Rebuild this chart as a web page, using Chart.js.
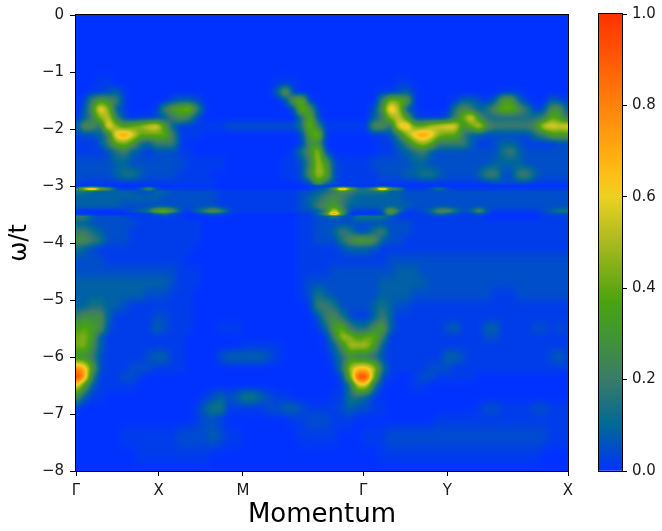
<!DOCTYPE html>
<html>
<head>
<meta charset="utf-8">
<script src="https://cdn.jsdelivr.net/npm/chart.js@4"></script>
<style>
  html, body { margin: 0; padding: 0; background: #fff; }
  #wrap { position: relative; width: 662px; height: 531px; }
  #wrap canvas { position: absolute; top: 0; }
</style>
</head>
<body>
<div id="wrap">
  <canvas id="map" width="662" height="531" style="left:0"></canvas>
  <canvas id="bar" width="92" height="531" style="left:570px"></canvas>
</div>
<script>
// ---------- Data ----------
// energies of the rows, top to bottom
const omega = [0,-0.5,-1,-1.2,-1.35,-1.5,-1.65,-1.8,-1.95,-2.1,-2.25,-2.4,-2.6,-2.8,-2.95,-3,-3.05,-3.1,-3.2,-3.35,-3.44,-3.49,-3.54,-3.65,-3.8,-3.95,-4.1,-4.3,-4.5,-4.7,-4.9,-5.1,-5.3,-5.5,-5.65,-5.8,-6,-6.2,-6.35,-6.5,-6.7,-6.9,-7.1,-7.4,-7.7,-8];
// what each character of a row stands for
const levelChars = '0123456789abcdefghijk';
const levelValues = [0,0.02,0.05,0.085,0.14,0.2,0.27,0.33,0.4,0.45,0.5,0.55,0.6,0.65,0.7,0.75,0.8,0.85,0.9,0.95,1];
// one string per row, 62 columns
const intensityRows = [
  "0000000000 0000000000 0000000000 0000000000 0000000000 0000000000 00",
  "0000000000 0000000000 0000000000 0000000000 0000000000 0000000000 00",
  "0000000000 0000000000 0000000000 0000000000 0000000000 0000000000 00",
  "0001100000 0000000000 0000011100 0000000000 1100000000 0000000000 00",
  "0011231000 0000000000 0000037100 0000000011 2310000000 0001110000 00",
  "0157651000 0023320000 0000002781 0000000059 8710000133 2137731003 21",
  "026d931000 1578951000 0000000296 100000026e a310000465 3468864126 62",
  "0359b52011 2356520000 0000000048 2000000359 b72111258c 6444444458 74",
  "1664d9789b c731111112 2222222249 5111111664 ce88abcc68 b6555556bc bc",
  "12235dfc88 8851110000 0000000027 9100000112 59dfd98853 3222222457 77",
  "1112589743 5551000000 0000000016 6000000011 358a855553 1123321111 22",
  "1111245321 2221100000 0000000146 a200000011 2345322222 2224532222 22",
  "2222233222 2222111110 0000001125 a721111222 2233222222 2233332222 22",
  "2222234432 2221111000 0000001126 a821111122 2334432222 3552255322 22",
  "2111111111 1111111100 0000000012 7421111111 1111111111 1122222111 11",
  "0000000000 0000000000 0000000000 2100000000 0000000000 0000000000 00",
  "4ah8621126 2111111100 0000000001 236h8446i6 5111242111 1111111111 11",
  "4433333322 3322222211 1111111122 3456544443 3222222222 2222222222 22",
  "3333333333 3222222211 1111111123 4565433333 3222222222 2222222222 22",
  "3333332222 2222222211 1111111123 5675333333 3322222222 2222222222 22",
  "1000001234 8962135752 1111111122 35c6211128 4112366423 6211111123 44",
  "0000000011 3421012321 0000000011 36i6000016 2011243211 3100000012 22",
  "5532222111 1111000000 0000000011 2232244442 1111111111 1000000011 11",
  "3322222211 1111110000 0000000011 2222222222 2211111111 1111111111 11",
  "5543222111 1111110000 0000000011 2235422452 2211111111 1111111111 11",
  "6654222111 1111110000 0000000011 2224677632 2111111111 1111111111 11",
  "4321111111 1111100000 0000000011 1112333211 1111111111 1111111111 11",
  "2222111111 1111000000 0000000011 1111111112 2222222222 2222222222 22",
  "2222222222 2221110000 0000000011 1122222222 3332222222 2222222222 22",
  "3333333333 3321110000 0000000012 2222222233 3333222222 2222222222 22",
  "3333333332 2211100000 0000000012 4322222233 3322222222 2211122222 22",
  "3344332111 1111100000 0000000001 5542222343 2211111111 1111111111 11",
  "5666311111 2211100000 0000000000 2564211353 1111111111 1111111111 11",
  "7876211111 3211100011 1000000000 1378544673 1111112311 1331111221 21",
  "8973111111 1111000000 0000000000 015a978851 1111111111 1221111111 11",
  "8963111111 1111000000 0111110000 0136aaa731 1111111111 1111111111 11",
  "6652111112 3311000023 3333210000 0024655421 1111113321 1111111112 31",
  "ge72111222 1111000000 0000000000 0014adda41 1111222111 1111111111 11",
  "kf51112210 0000000000 0000000000 00028jj821 0012211111 0000000000 00",
  "d731111100 0000000000 0000000000 00014bb410 0011000000 0000000000 00",
  "6311000000 0000001232 3443211000 0011443100 0000000000 0000000000 00",
  "1000000000 0000013441 1111223321 1112322110 0000000000 1221111221 11",
  "0000000000 0000012210 0000000112 2211100000 0000011111 1111111111 11",
  "0000001111 1112222321 1000000011 1110001112 2222222222 2222222221 11",
  "0000000011 1111111000 0000000000 0000000011 1111111111 1111111100 00",
  "0000000000 0000000000 0000000000 0000000000 0000000000 0000000000 00"
];
const kTicks = [0, 10.24, 20.7, 35.6, 46.05, 61];
const kLabels = ['Γ', 'X', 'M', 'Γ', 'Y', 'X'];
const omegaTicks = [0, -1, -2, -3, -4, -5, -6, -7, -8];
const barTicks = [0, 0.2, 0.4, 0.6, 0.8, 1];
// colour map
const cmapStops = [0, 0.1, 0.2, 0.3, 0.37, 0.5, 0.6, 0.65, 0.8, 1];
const cmapColors = [[0,50,255],[0,105,150],[60,122,105],[65,150,50],[75,162,15],[170,185,30],[235,210,35],[255,190,20],[255,130,10],[255,50,0]];

const grid = intensityRows.map(r => r.replace(/ /g, '').split('').map(c => levelValues[levelChars.indexOf(c)]));
const cells = [];
grid.forEach((row, j) => row.forEach((v, i) => cells.push({ x: i, y: omega[j], v })));

const FONT = '"DejaVu Sans", sans-serif';
const INK = '#1a1a1a';

// ---------- Helpers ----------
function colorOf(v) {
  let n = 1;
  while (n < cmapStops.length - 1 && v > cmapStops[n]) n++;
  const t = Math.min(1, (v - cmapStops[n-1]) / (cmapStops[n] - cmapStops[n-1]));
  const a = cmapColors[n-1], b = cmapColors[n];
  return [a[0] + (b[0]-a[0])*t, a[1] + (b[1]-a[1])*t, a[2] + (b[2]-a[2])*t];
}
function fixWidth(w) { return s => { s.width = w; }; }
function fixHeight(h) { return s => { s.height = h; }; }

// box blur of a w*h field; radius(a) gives the radius along one line
function blurLines(src, w, h, horizontal, radius) {
  const out = new Float32Array(src.length);
  const lines = horizontal ? h : w, len = horizontal ? w : h;
  for (let l = 0; l < lines; l++) {
    for (let p = 0; p < len; p++) {
      const r = radius(p);
      let sum = 0, n = 0;
      for (let q = Math.max(0, p - r); q <= Math.min(len - 1, p + r); q++) {
        sum += horizontal ? src[l*w + q] : src[q*w + l];
        n++;
      }
      out[horizontal ? l*w + p : p*w + l] = sum / n;
    }
  }
  return out;
}

// paints the cells, blended between neighbours, through the chart's scales
const heatPlugin = {
  id: 'heat',
  beforeDatasetsDraw(chart) {
    const { ctx, chartArea: a, scales } = chart;
    const left = Math.round(a.left), top = Math.round(a.top);
    const w = Math.round(a.right) - left, h = Math.round(a.bottom) - top;
    let field = new Float32Array(w*h);
    const rowRadius = [];
    for (let py = 0; py < h; py++) {
      const o = scales.y.getValueForPixel(top + py + 0.5);
      let j = 0;
      while (j < omega.length - 2 && o < omega[j+1]) j++;
      const ty = Math.max(0, Math.min(1, (omega[j] - o) / (omega[j] - omega[j+1])));
      const gap = Math.abs(scales.y.getPixelForValue(omega[j]) - scales.y.getPixelForValue(omega[j+1]));
      rowRadius.push(Math.min(6, Math.floor(gap / 3)));
      for (let px = 0; px < w; px++) {
        const k = Math.max(0, Math.min(60.999, scales.x.getValueForPixel(left + px + 0.5)));
        const i = Math.floor(k), tx = k - i;
        field[py*w + px] = (grid[j][i]*(1-tx) + grid[j][i+1]*tx)*(1-ty) + (grid[j+1][i]*(1-tx) + grid[j+1][i+1]*tx)*ty;
      }
    }
    field = blurLines(field, w, h, true, () => 3);
    field = blurLines(field, w, h, false, p => rowRadius[p]);
    const img = ctx.createImageData(w, h);
    for (let p = 0; p < w*h; p++) {
      const c = colorOf(field[p]);
      img.data[p*4] = c[0]; img.data[p*4+1] = c[1]; img.data[p*4+2] = c[2]; img.data[p*4+3] = 255;
    }
    ctx.putImageData(img, left, top);
  }
};
const framePlugin = {
  id: 'frame',
  afterDraw(chart) {
    const { ctx, chartArea: a } = chart;
    ctx.save();
    ctx.strokeStyle = '#000';
    ctx.lineWidth = 1;
    ctx.strokeRect(Math.round(a.left) - 0.5, Math.round(a.top) - 0.5, Math.round(a.width) + 1, Math.round(a.height) + 1);
    ctx.restore();
  }
};
// the colour bar's fill needs the finished scale
const gradientPlugin = {
  id: 'gradient',
  beforeDatasetsDraw(chart) {
    const sc = chart.scales.y;
    const g = chart.ctx.createLinearGradient(0, sc.getPixelForValue(0), 0, sc.getPixelForValue(1));
    cmapStops.forEach((s, n) => g.addColorStop(s, 'rgb(' + cmapColors[n].join(',') + ')'));
    const bar = chart.getDatasetMeta(0).data[0];
    bar.options = Object.assign({}, bar.options, { backgroundColor: g, borderWidth: 0 });
  }
};

// ---------- Charts ----------
new Chart(document.getElementById('map'), {
  type: 'scatter',
  data: { datasets: [{ data: cells, pointRadius: 0, pointHoverRadius: 0 }] },
  options: {
    responsive: false, animation: false, events: [],
    layout: { padding: { left: 0, top: 14, right: 94, bottom: 0 } },
    plugins: { legend: { display: false }, tooltip: { enabled: false } },
    scales: {
      x: {
        type: 'linear', min: 0, max: 61,
        afterFit: fixHeight(60),
        afterBuildTicks: s => { s.ticks = kTicks.map(value => ({ value })); },
        grid: { drawOnChartArea: false, tickLength: 5, tickColor: '#000' },
        border: { color: '#000' },
        ticks: { autoSkip: false, maxRotation: 0, padding: 6, color: INK, font: { family: FONT, size: 15 },
          callback: (v) => kLabels[kTicks.indexOf(v)] },
        title: { display: true, text: 'Momentum', color: '#000', padding: { top: 0, bottom: 0 }, font: { family: FONT, size: 26 } }
      },
      y: {
        type: 'linear', min: -8, max: 0,
        afterFit: fixWidth(76),
        afterBuildTicks: s => { s.ticks = omegaTicks.map(value => ({ value })); },
        grid: { drawOnChartArea: false, tickLength: 6, tickColor: '#000' },
        border: { color: '#000' },
        ticks: { autoSkip: false, padding: 6, color: INK, font: { family: FONT, size: 15 },
          callback: v => String(v).replace('-', '\u2212') },
        title: { display: true, text: 'ω/t', color: '#000', padding: { top: 5, bottom: 0 }, font: { family: FONT, size: 24 } }
      }
    }
  },
  plugins: [heatPlugin, framePlugin]
});

new Chart(document.getElementById('bar'), {
  type: 'bar',
  data: {
    labels: [''],
    datasets: [{ data: [[0, 1]], barPercentage: 1, categoryPercentage: 1, backgroundColor: '#00f' }]
  },
  options: {
    responsive: false, animation: false, events: [],
    layout: { padding: { left: 29, top: 14, right: 0, bottom: 60 } },
    plugins: { legend: { display: false }, tooltip: { enabled: false } },
    scales: {
      x: { display: false },
      y: {
        position: 'right', min: 0, max: 1,
        afterFit: fixWidth(40),
        afterBuildTicks: s => { s.ticks = barTicks.map(value => ({ value })); },
        grid: { drawOnChartArea: false, tickLength: 5, tickColor: '#000' },
        border: { display: false },
        ticks: { autoSkip: false, padding: 5, color: INK, font: { family: FONT, size: 15 }, callback: v => v.toFixed(1) }
      }
    }
  },
  plugins: [gradientPlugin, framePlugin]
});
</script>
</body>
</html>
